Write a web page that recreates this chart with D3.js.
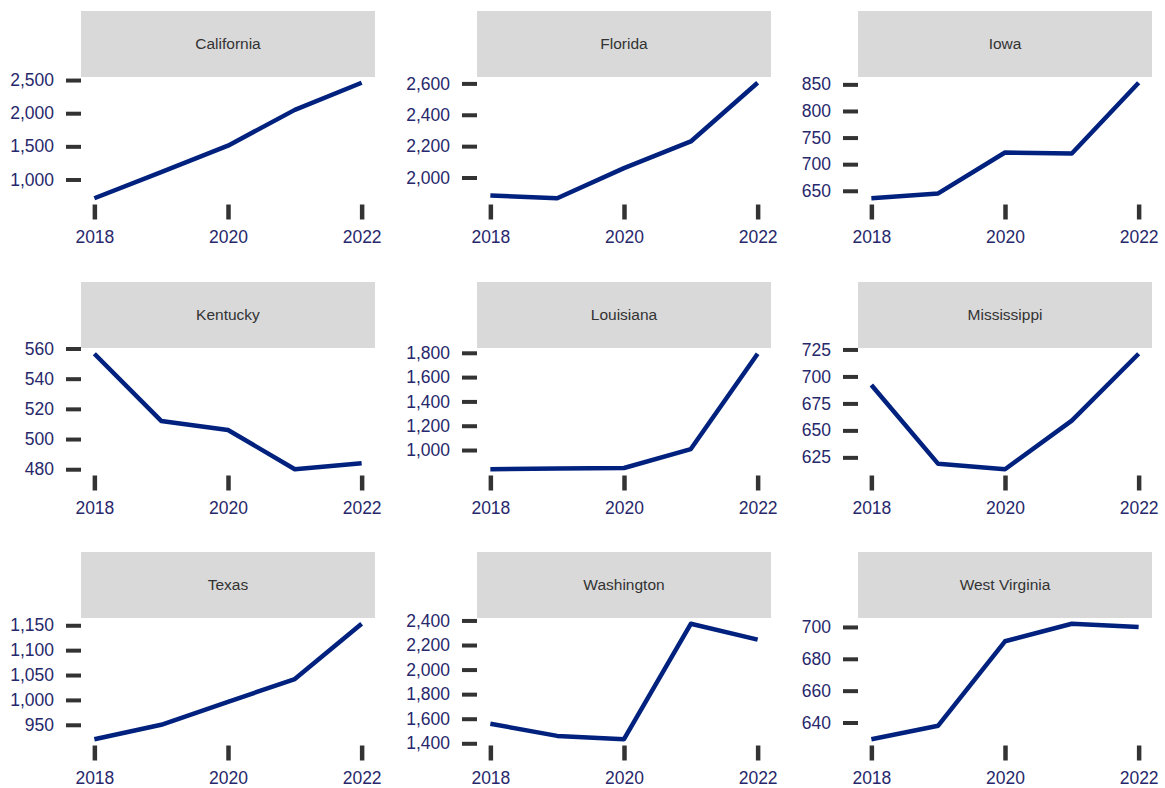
<!DOCTYPE html>
<html>
<head>
<meta charset="utf-8">
<script src="https://cdn.jsdelivr.net/npm/d3@7"></script>
<style>
  body { margin: 0; background: #fff; }
  svg { display: block; font-family: "Liberation Sans", Arial, sans-serif; }
</style>
</head>
<body>
<svg id="chart" width="1165" height="788"></svg>
<script>
const years = [2018, 2019, 2020, 2021, 2022];
const xTicks = [2018, 2020, 2022];
const states = ["California", "Florida", "Iowa", "Kentucky", "Louisiana", "Mississippi", "Texas", "Washington", "West Virginia"];

const california = [717, 1110, 1510, 2050, 2459];
const florida = [1885, 1868, 2060, 2230, 2604];
const iowa = [636, 645, 722, 720, 853];
const kentucky = [556.5, 512, 506, 480, 484];
const louisiana = [842, 847, 852, 1008, 1792];
const mississippi = [692, 619, 614, 659, 721];
const texas = [921, 950, 996, 1042, 1153];
const washington = [1559, 1460, 1433, 2373, 2244];
const westVirginia = [629.5, 638, 691, 702, 700];

const yTicksCalifornia = [1000, 1500, 2000, 2500];
const yTicksFlorida = [2000, 2200, 2400, 2600];
const yTicksIowa = [650, 700, 750, 800, 850];
const yTicksKentucky = [480, 500, 520, 540, 560];
const yTicksLouisiana = [1000, 1200, 1400, 1600, 1800];
const yTicksMississippi = [625, 650, 675, 700, 725];
const yTicksTexas = [950, 1000, 1050, 1100, 1150];
const yTicksWashington = [1400, 1600, 1800, 2000, 2200, 2400];
const yTicksWestVirginia = [640, 660, 680, 700];

const seriesList = [california, florida, iowa, kentucky, louisiana, mississippi, texas, washington, westVirginia];
const yTickList = [yTicksCalifornia, yTicksFlorida, yTicksIowa, yTicksKentucky, yTicksLouisiana, yTicksMississippi, yTicksTexas, yTicksWashington, yTicksWestVirginia];

// layout
const colLeft = [81, 477, 858];
const rowTop = [11, 282, 552];
const panelW = 294;
const stripH = 66;
const plotH = 127;

const lineColor = "#00217d";
const textColor = "#27286b";
const tickColor = "#333333";

const svg = d3.select("#chart");
const fmt = d3.format(",");

states.forEach((name, i) => {
  const col = i % 3, row = Math.floor(i / 3);
  const x0 = colLeft[col], y0 = rowTop[row];
  const g = svg.append("g").attr("transform", `translate(${x0},${y0})`);
  const values = seriesList[i];
  const data = years.map((yr, j) => ({ year: yr, value: values[j] }));

  // strip
  g.append("rect").attr("x", 0).attr("y", 0).attr("width", panelW).attr("height", stripH)
    .attr("fill", "#d9d9d9");
  g.append("text").attr("x", panelW / 2).attr("y", stripH / 2 + 1)
    .attr("text-anchor", "middle").attr("dominant-baseline", "middle")
    .attr("font-size", 15.5).attr("fill", "#333333").text(name);

  const pg = g.append("g").attr("transform", `translate(0,${stripH})`);

  const xExt = d3.extent(years);
  const xPad = (xExt[1] - xExt[0]) * 0.05;
  const x = d3.scaleLinear().domain([xExt[0] - xPad, xExt[1] + xPad]).range([0, panelW]);
  const yExt = d3.extent(values);
  const yPad = (yExt[1] - yExt[0]) * 0.05;
  const y = d3.scaleLinear().domain([yExt[0] - yPad, yExt[1] + yPad]).range([plotH, 0]);

  // y axis
  const yAxis = d3.axisLeft(y).tickValues(yTickList[i]).tickFormat(fmt).tickSize(15).tickPadding(12);
  const ya = pg.append("g").call(yAxis);
  ya.select(".domain").remove();
  ya.selectAll(".tick line").attr("stroke", tickColor).attr("stroke-width", 4);
  ya.selectAll(".tick text").attr("fill", textColor).attr("font-size", 17.5)
    .attr("font-family", "Liberation Sans, Arial, sans-serif");

  // x axis
  const xAxis = d3.axisBottom(x).tickValues(xTicks).tickFormat(d3.format("d")).tickSize(15).tickPadding(11);
  const xa = pg.append("g").attr("transform", `translate(0,${plotH + 0.5})`).call(xAxis);
  xa.select(".domain").remove();
  xa.selectAll(".tick line").attr("stroke", tickColor).attr("stroke-width", 4.5);
  xa.selectAll(".tick text").attr("fill", textColor).attr("font-size", 17.5)
    .attr("font-family", "Liberation Sans, Arial, sans-serif");

  // line
  const line = d3.line().x(d => x(d.year)).y(d => y(d.value));
  pg.append("path").datum(data).attr("d", line)
    .attr("fill", "none").attr("stroke", lineColor).attr("stroke-width", 4.5)
    .attr("stroke-linejoin", "round").attr("stroke-linecap", "butt");
});
</script>
</body>
</html>
